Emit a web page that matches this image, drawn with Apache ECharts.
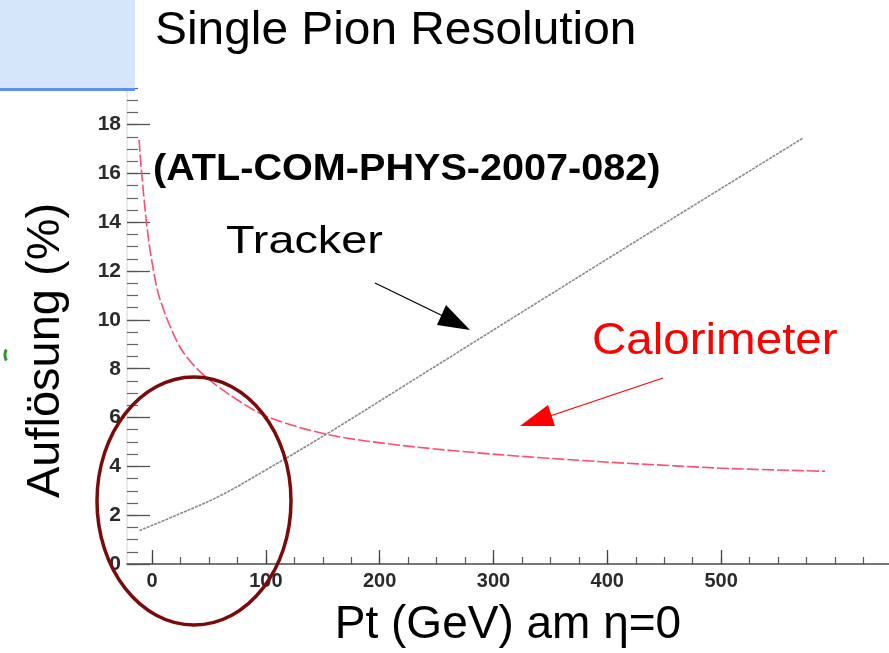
<!DOCTYPE html>
<html><head><meta charset="utf-8">
<script src="https://cdn.jsdelivr.net/npm/echarts@6/dist/echarts.min.js"></script>
<style>html,body{margin:0;padding:0;background:#fff}#c{width:889px;height:653px}</style>
</head><body><div id="c"></div>
<script>
// Tracker resolution curve (Pt in GeV, resolution in %)
const trackerPt  = [-11, 24, 60, 101, 155, 218, 344, 452, 572];
const trackerRes = [1.37, 2.05, 2.8, 3.88, 5.37, 7.2, 10.87, 14.0, 17.45];
// Calorimeter resolution curve
const caloPt  = [-11.4, -9.3, -4.9, -0.5, 6.8, 24.4, 41.9, 68.3, 100.6, 154.7, 221, 305, 394.7, 459.5, 507.9, 573.8, 591.4];
const caloRes = [17.38, 16.1, 14.0, 12.5, 10.87, 8.9, 7.89, 6.93, 6.05, 5.3, 4.85, 4.48, 4.19, 4.02, 3.91, 3.82, 3.8];
// Axis ticks
const xLabelValues = [0, 100, 200, 300, 400, 500];
const xMinorValues = [0,25,50,75,100,125,150,175,200,225,250,275,300,325,350,375,400,425,450,475,500,525,550,575,600,625];
const yLabelValues = [0, 2, 4, 6, 8, 10, 12, 14, 16, 18];
const yMinorValues = [0,0.5,1,1.5,2,2.5,3,3.5,4,4.5,5,5.5,6,6.5,7,7.5,8,8.5,9,9.5,10,10.5,11,11.5,12,12.5,13,13.5,14,14.5,15,15.5,16,16.5,17,17.5,18,18.5,19,19.5];
// Texts
const titleText = 'Single Pion Resolution';
const refText = '(ATL-COM-PHYS-2007-082)';
const trackerText = 'Tracker';
const caloText = 'Calorimeter';
const xTitle = 'Pt (GeV) am \u03b7=0';
const yTitle = 'Aufl\u00f6sung (%)';

const FONT = 'Liberation Sans, Arial, sans-serif';
const chart = echarts.init(document.getElementById('c'));

function txt(text, x, y, size, opts) {
  opts = opts || {};
  return {
    type: 'text', x: x, y: y, z: 100,
    scaleX: opts.scaleX || 1,
    rotation: opts.rotation || 0,
    style: {
      text: text, fontSize: size, fontFamily: FONT,
      fontWeight: opts.bold ? 'bold' : 'normal',
      fill: opts.color || '#000',
      align: opts.align || 'left', verticalAlign: 'middle',
      textAlign: opts.align || 'left', textVerticalAlign: 'middle'
    }
  };
}

const option = {
  animation: false,
  backgroundColor: '#fff',
  grid: { left: 127, right: 0, top: 88, bottom: 86 },
  xAxis: [{
    type: 'value', min: -22, max: 647.5, position: 'bottom',
    axisLine: { show: true, onZero: false, lineStyle: { color: '#4a4a4a', width: 1.5 } },
    axisTick: { show: true, inside: true, length: 7, customValues: xMinorValues, lineStyle: { color: '#555', width: 1.2 } },
    axisLabel: { show: false },
    splitLine: { show: false }
  }, {
    type: 'value', min: -22, max: 647.5, position: 'bottom',
    axisLine: { show: false, onZero: false },
    axisTick: { show: true, inside: true, length: 14, customValues: xLabelValues, lineStyle: { color: '#444', width: 1.3 } },
    axisLabel: { show: true, customValues: xLabelValues, margin: 7, fontSize: 20, fontWeight: 'bold', fontFamily: FONT, color: '#2b2b2b' },
    splitLine: { show: false },
    name: xTitle, nameLocation: 'middle', nameGap: 38,
    nameTextStyle: { fontSize: 46, fontFamily: FONT, color: '#000' }
  }],
  yAxis: [{
    type: 'value', min: 0, max: 19.5, position: 'left',
    axisLine: { show: true, onZero: false, lineStyle: { color: '#e2e2e2', width: 1.5 } },
    axisTick: { show: true, inside: true, length: 11, customValues: yMinorValues, lineStyle: { color: '#666', width: 1.2 } },
    axisLabel: { show: true, customValues: yLabelValues, margin: 6, fontSize: 21, fontWeight: 'bold', fontFamily: FONT, color: '#2b2b2b' },
    splitLine: { show: false },
    name: yTitle, nameLocation: 'middle', nameGap: 57,
    nameTextStyle: { fontSize: 47, fontFamily: FONT, color: '#000', padding: [0, 49, 0, 0] }
  }, {
    type: 'value', min: 0, max: 19.5, position: 'left',
    axisLine: { show: false, onZero: false },
    axisTick: { show: true, inside: true, length: 23, customValues: yLabelValues, lineStyle: { color: '#555', width: 1.3 } },
    axisLabel: { show: false },
    splitLine: { show: false }
  }],
  series: [{
    name: 'Tracker', type: 'line', xAxisIndex: 0, yAxisIndex: 0,
    data: trackerPt.map((x, i) => [x, trackerRes[i]]),
    showSymbol: false, smooth: 0.4,
    lineStyle: { color: '#8a8a8a', width: 1.6, type: [3, 1] }, z: 5
  }, {
    name: 'Calorimeter', type: 'line', xAxisIndex: 0, yAxisIndex: 0,
    data: caloPt.map((x, i) => [x, caloRes[i]]),
    showSymbol: false, smooth: 0.3,
    lineStyle: { color: '#ff4d6d', width: 1.6, type: [12, 3] }, z: 5
  }],
  graphic: [
    { type: 'rect', shape: { x: 0, y: 0, width: 135, height: 88 }, style: { fill: '#d5e6fb' }, z: 50 },
    { type: 'rect', shape: { x: 0, y: 88, width: 135, height: 3 }, style: { fill: '#5f8ff0' }, z: 51 },
    { type: 'arc', shape: { cx: 17, cy: 355, r: 12, startAngle: Math.PI * 0.85, endAngle: Math.PI * 1.15 }, style: { stroke: '#2e9a2e', lineWidth: 3, fill: null }, z: 51 },
    txt(titleText, 155, 31, 46, { scaleX: 1.04 }),
    txt(refText, 153, 170, 36, { bold: true, scaleX: 1.1 }),
    txt(trackerText, 226, 242, 39, { scaleX: 1.2 }),
    txt(caloText, 592, 342, 44, { scaleX: 1.08, color: '#ff0000' }),
    // black arrow
    { type: 'line', shape: { x1: 375, y1: 283, x2: 443, y2: 316 }, style: { stroke: '#000', lineWidth: 1.3 }, z: 100 },
    { type: 'polygon', shape: { points: [[470, 330], [446, 305], [437, 325]] }, style: { fill: '#000' }, z: 100 },
    // red arrow
    { type: 'line', shape: { x1: 663, y1: 378, x2: 550, y2: 416 }, style: { stroke: '#ff0000', lineWidth: 1.3 }, z: 100 },
    { type: 'polygon', shape: { points: [[520, 426], [548, 405], [555, 426]] }, style: { fill: '#ff0000' }, z: 100 },
    // ellipse highlight
    { type: 'ellipse', shape: { cx: 194, cy: 501, rx: 97, ry: 124 }, style: { stroke: '#7b0a0a', lineWidth: 3.5, fill: null }, z: 110 }
  ]
};
chart.setOption(option);
</script>
</body></html>
